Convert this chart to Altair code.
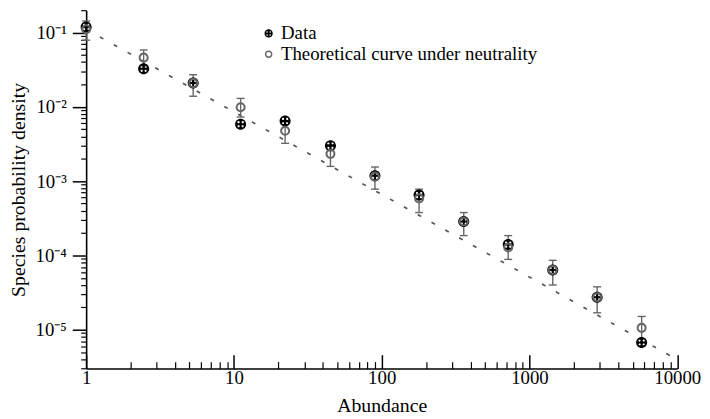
import altair as alt
import pandas as pd

# ---- data ----
ABUNDANCE = [1, 2.45, 5.3, 11.1, 22.2, 45, 90, 179, 359, 718, 1437, 2870, 5740]
DATA = [0.119, 0.0326, 0.0209, 0.00585, 0.00647, 0.0030, 0.00118, 0.00065,
        0.000286, 0.000140, 6.37e-5, 2.74e-5, 6.73e-6]
THEORY = [0.111, 0.046, 0.0209, 0.0099, 0.00476, 0.00233, 0.00115, 0.000586,
          0.000286, 0.000128, 6.37e-5, 2.74e-5, 1.06e-5]
ERR_LOW = [0.079, 0.0355, 0.0139, 0.0073, 0.00323, 0.00158, 0.00078, 0.000378,
           0.000185, 8.85e-5, 4.0e-5, 1.69e-5, 6.1e-6]
ERR_HIGH = [0.143, 0.0583, 0.0271, 0.0130, 0.0063, 0.0031, 0.00155, 0.00078,
            0.000378, 0.000185, 8.6e-5, 3.78e-5, 1.51e-5]
LINE_X = [1, 10000]
LINE_Y = [0.111, 3.95e-6]
SERIES = ["Data", "Theoretical curve under neutrality"]

X_MAJOR = [1, 10, 100, 1000, 10000]
X_MINOR = [m * 10 ** k for k in range(4) for m in range(2, 10)]
Y_MAJOR = [1e-5, 1e-4, 1e-3, 1e-2, 1e-1]
Y_LABELS = ["10\u207b\u2075", "10\u207b\u2074", "10\u207b\u00b3", "10\u207b\u00b2", "10\u207b\u00b9"]
Y_MINOR = [m * 10.0 ** k for k in range(-6, 0) for m in range(2, 10)
           if 2.9e-6 <= m * 10.0 ** k <= 0.21]

FONT = "Liberation Serif"
GREY = "#666666"
W, H = 597.6, 362.3

# custom symbols (unit box scaled by sqrt(size)/2)
def circ(cx, cy, r, sweep):
    return (f"M{cx - r},{cy}A{r},{r} 0 1,{sweep} {cx + r},{cy}"
            f"A{r},{r} 0 1,{sweep} {cx - r},{cy}Z")

DATA_SHAPE = circ(0, 0, 1, 1) + "".join(
    circ(dx, dy, 0.2, 0) for dx, dy in [(-0.38, -0.36), (0.38, -0.36), (-0.36, 0.38), (0.36, 0.38)])
THEORY_SHAPE = circ(0, 0, 0.73, 1)

line_df = pd.DataFrame({"x": LINE_X, "y": LINE_Y})
err_df = pd.DataFrame({"x": ABUNDANCE, "lo": ERR_LOW, "hi": ERR_HIGH})
pts_df = pd.concat([
    pd.DataFrame({"x": ABUNDANCE, "y": DATA, "series": SERIES[0]}),
    pd.DataFrame({"x": ABUNDANCE, "y": THEORY, "series": SERIES[1]}),
], ignore_index=True)

xs = alt.Scale(type="log", domain=[1, 10000])
ys = alt.Scale(type="log", domain=[3e-6, 0.2])

labels_js = "[" + ",".join(f"'{l}'" for l in Y_LABELS) + "]"
y_label_expr = f"{labels_js}[round(log(datum.value)/LN10) + 5]"

main_x_axis = alt.Axis(values=X_MAJOR, format="d", ticks=False, tickSize=0, domain=True,
                       domainColor="black", domainWidth=1.6, labelFont=FONT, labelFontSize=19,
                       labelColor="black", labelPadding=0, labelFlush=False, grid=False,
                       title="Abundance", titleFont=FONT, titleFontSize=20,
                       titleFontWeight="normal", titleColor="black",
                       titleBaseline="alphabetic", titleY=43)
main_y_axis = alt.Axis(values=Y_MAJOR, labelExpr=y_label_expr, tickSize=14, tickWidth=1.5,
                       tickColor="black", domain=True, domainColor="black", domainWidth=1.6,
                       labelFont=FONT, labelFontSize=19, labelColor="black", labelPadding=6,
                       labelFlush=False, grid=False,
                       title="Species probability density", titleFont=FONT, titleFontSize=20,
                       titleFontWeight="normal", titleColor="black", titleX=-62, titleY=H / 2,
                       titleBaseline="alphabetic", titleAlign="center")
y_minor_axis = alt.Axis(orient="left", values=Y_MINOR, tickSize=5.5, tickWidth=1.2,
                        tickColor="black", labels=False, domain=False, grid=False, title=None)
x_in_major = alt.Axis(orient="top", offset=-H, values=X_MAJOR, tickSize=14, tickWidth=1.5,
                      tickColor="black", labels=False, domain=False, grid=False, title=None)
x_in_minor = alt.Axis(orient="top", offset=-H, values=X_MINOR, tickSize=7, tickWidth=1.2,
                      tickColor="black", labels=False, domain=False, grid=False, title=None)

line = alt.Chart(line_df).mark_line(color="#555555", strokeWidth=1.7, strokeDash=[4, 12]).encode(
    x=alt.X("x:Q", scale=xs, axis=main_x_axis),
    y=alt.Y("y:Q", scale=ys, axis=main_y_axis),
)
rules = alt.Chart(err_df).mark_rule(color=GREY, strokeWidth=1.4).encode(
    x=alt.X("x:Q", scale=xs, axis=x_in_major),
    y=alt.Y("lo:Q", scale=ys, axis=y_minor_axis),
    y2="hi:Q",
)
cap_lo = alt.Chart(err_df).mark_tick(color=GREY, orient="horizontal", size=8, thickness=1.4,
                                     opacity=1).encode(
    x=alt.X("x:Q", scale=xs, axis=x_in_minor),
    y=alt.Y("lo:Q", scale=ys, axis=None),
)
cap_hi = alt.Chart(err_df).mark_tick(color=GREY, orient="horizontal", size=8, thickness=1.4,
                                     opacity=1).encode(
    x=alt.X("x:Q", scale=xs, axis=None),
    y=alt.Y("hi:Q", scale=ys, axis=None),
)

legend = alt.Legend(title=None, orient="none", legendX=175, legendY=14, padding=0,
                    labelFont=FONT, labelFontSize=19, labelColor="black", labelLimit=500,
                    symbolSize=70, symbolStrokeWidth=1.5, labelOffset=3, rowPadding=1)

points = alt.Chart(pts_df).mark_point(filled=False, size=125, strokeWidth=2, opacity=1).encode(
    x=alt.X("x:Q", scale=xs, axis=None),
    y=alt.Y("y:Q", scale=ys, axis=None),
    shape=alt.Shape("series:N", scale=alt.Scale(domain=SERIES, range=[DATA_SHAPE, THEORY_SHAPE]),
                    legend=legend),
    fill=alt.Fill("series:N", scale=alt.Scale(domain=SERIES, range=["black", "transparent"]),
                  legend=legend),
    stroke=alt.Stroke("series:N", scale=alt.Scale(domain=SERIES, range=["transparent", GREY]),
                      legend=legend),
)

chart = alt.layer(line, rules, cap_lo, cap_hi, points).resolve_axis(
    x="independent", y="independent"
).properties(
    width=W, height=H,
    autosize=alt.AutoSizeParams(type="none"),
    padding={"left": 79, "top": 0, "right": 25, "bottom": 46},
    background="white",
).configure_view(stroke=None)

chart.save("out.html", embed_options={"renderer": "svg", "actions": False})
